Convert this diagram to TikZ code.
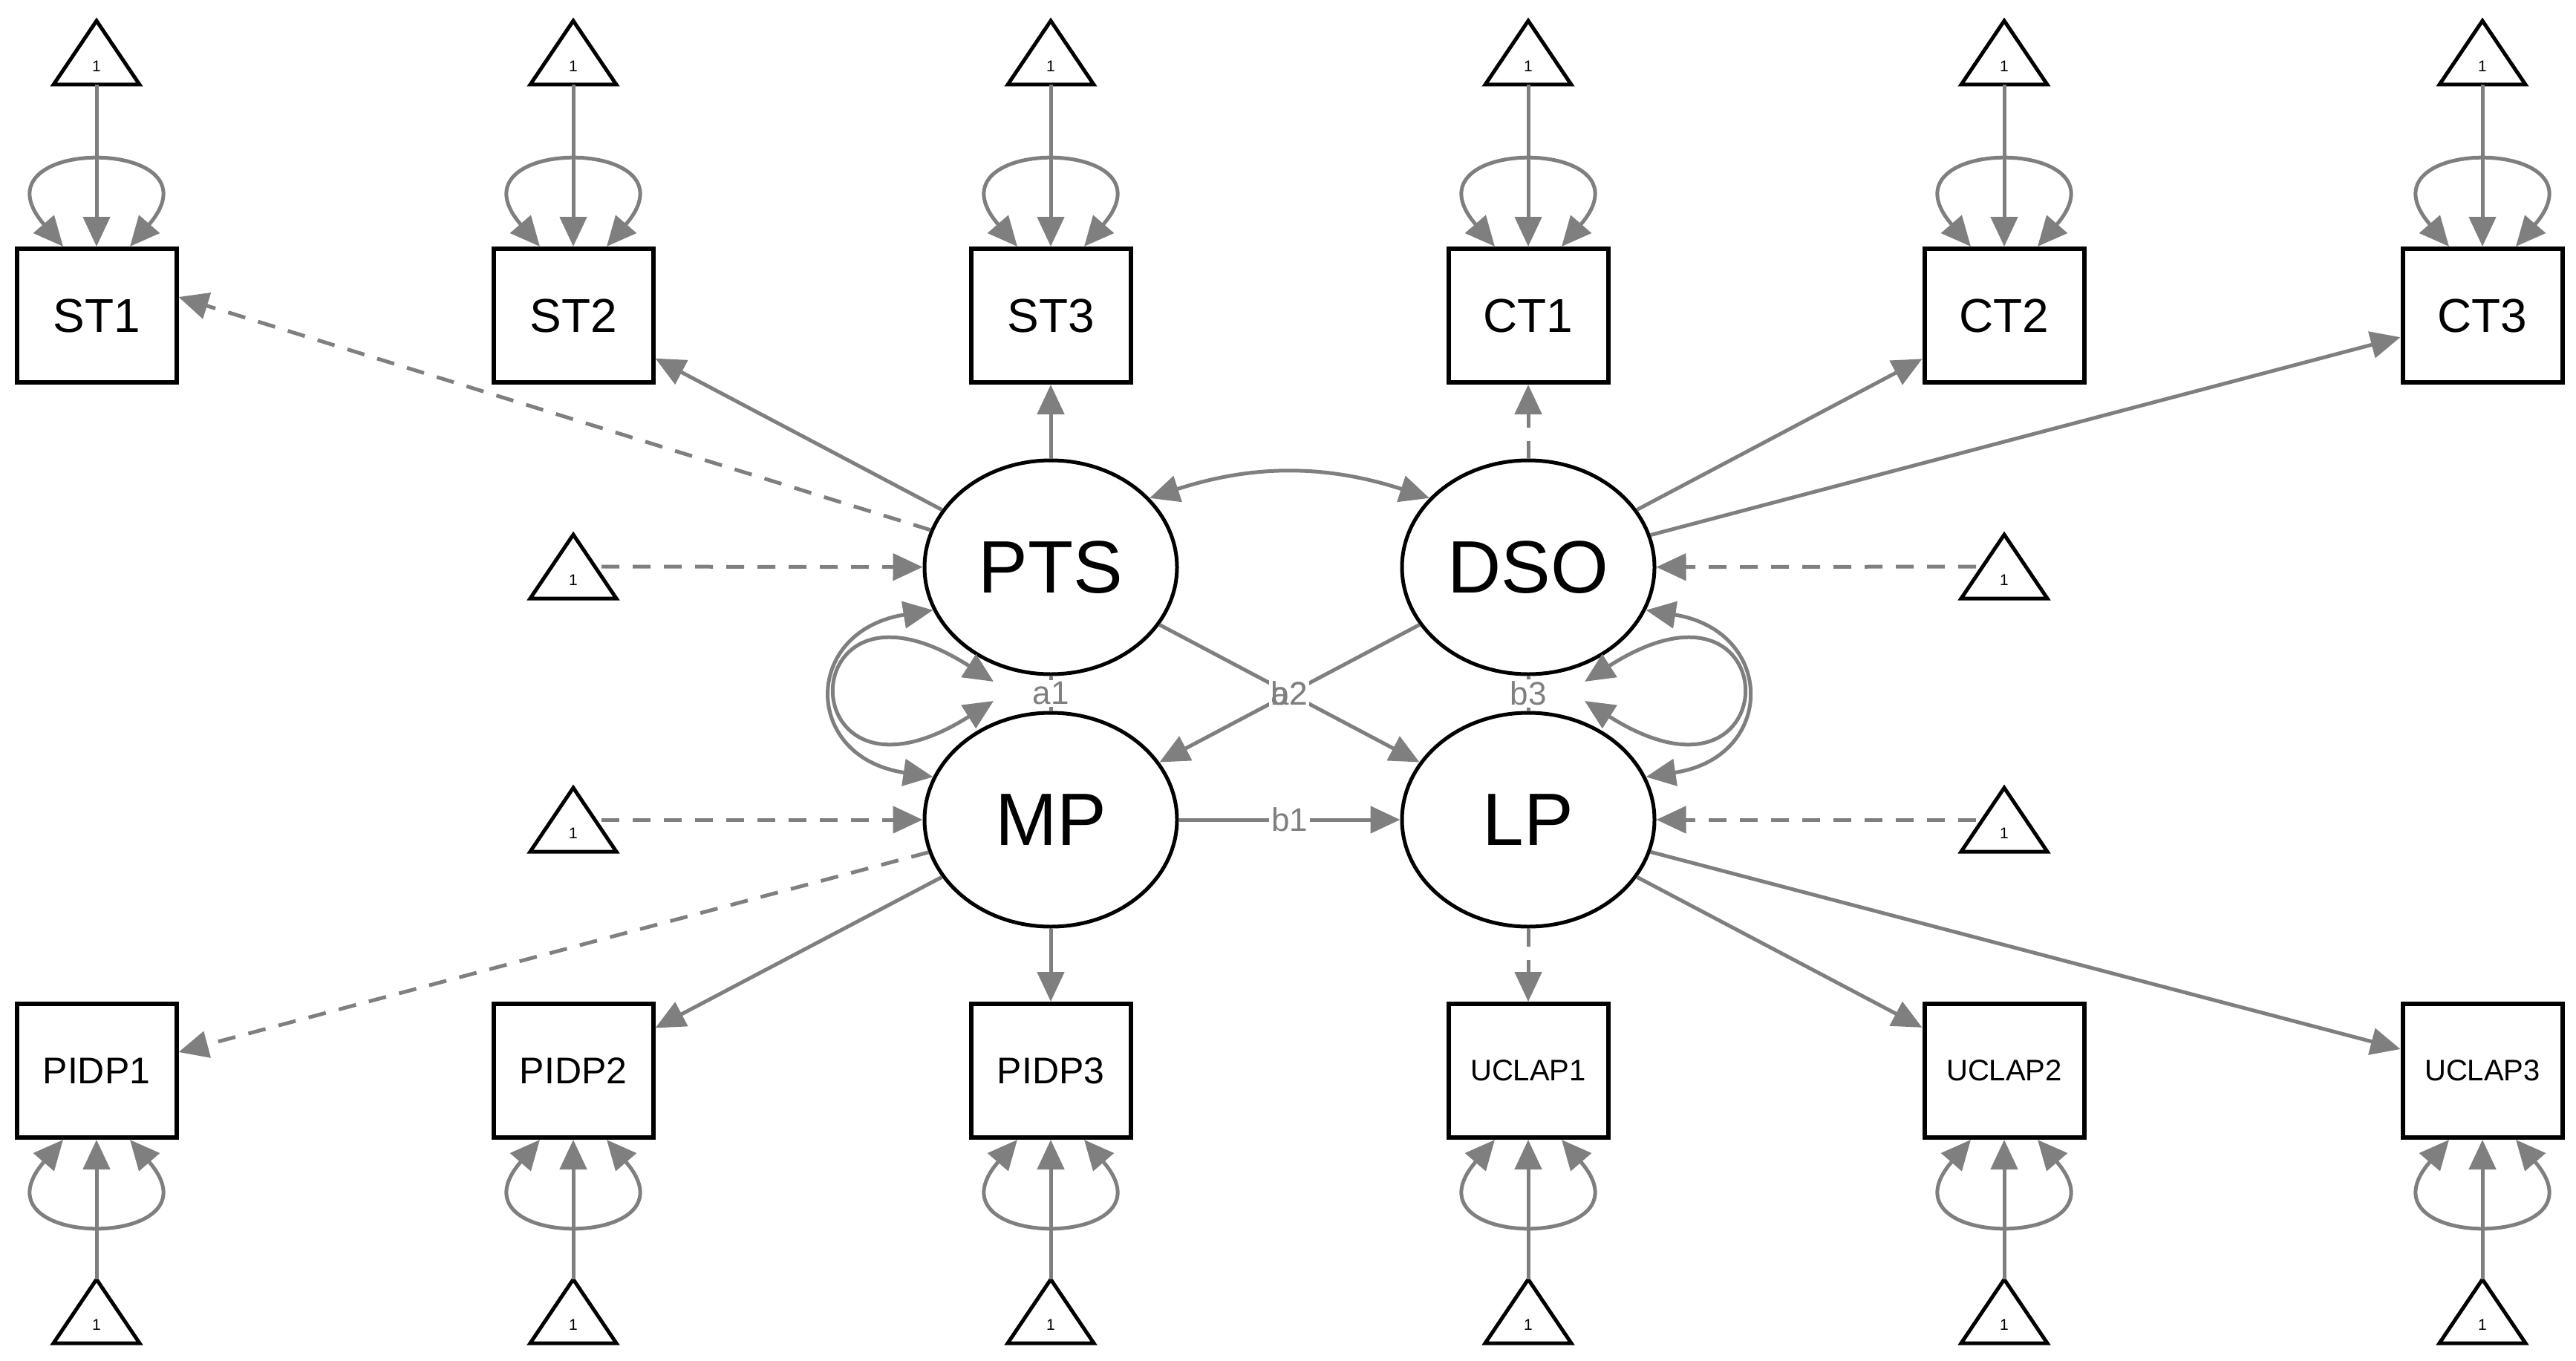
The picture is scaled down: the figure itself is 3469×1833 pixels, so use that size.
\documentclass[tikz,border=0pt]{standalone}
\usepackage{fontspec}
\setmainfont{Liberation Sans}
\usetikzlibrary{shapes.geometric,arrows.meta,calc}
\definecolor{eg}{HTML}{7F7F7F}
\newcommand\onetri[3]{%
  \draw[line width=5pt,fill=white] (#2-58,#3+43) -- (#2,#3-43) -- (#2+58,#3+43) -- cycle;
  \node[font=\fontsize{21}{21}\selectfont] at (#2,#3+18) {1};
  \coordinate (#1top) at (#2,#3-43);
  \coordinate (#1bot) at (#2,#3+43);
  \coordinate (#1r) at (#2+38,#3);
  \coordinate (#1l) at (#2-38,#3);}
\tikzset{
  lat/.style={ellipse, draw, line width=5pt, fill=white, minimum width=340pt, minimum height=288pt, inner sep=0pt, font=\fontsize{100}{100}\selectfont},
  obs/.style={rectangle, draw, line width=6pt, fill=white, minimum width=215pt, minimum height=180pt, inner sep=0pt},
  big/.style={font=\fontsize{64}{64}\selectfont},
  mid/.style={font=\fontsize{50}{50}\selectfont},
  sml/.style={font=\fontsize{40}{40}\selectfont},
  tip/.tip={Triangle[length=40pt,width=36pt]},
  e/.style={draw=eg, line width=5pt, -tip},
  ee/.style={draw=eg, line width=5pt, tip-tip},
  dsh/.style={dash pattern=on 24pt off 18pt},
  lab/.style={text=eg, font=\fontsize{44}{44}\selectfont, inner sep=3pt},
}
\begin{document}
\begin{tikzpicture}[x=1pt,y=-1pt]
\useasboundingbox (0,0) rectangle (3469,1833);
% latent
\node[lat] (PTS) at (1415,764) {PTS};
\node[lat] (DSO) at (2058,764) {DSO};
\node[lat] (MP) at (1415,1104) {MP};
\node[lat] (LP) at (2058,1104) {LP};
% observed
\foreach \n/\x in {ST1/130,ST2/772,ST3/1415,CT1/2058,CT2/2699,CT3/3343}
  \node[obs,big] (\n) at (\x,425) {\n};
\foreach \n/\x in {PIDP1/130,PIDP2/772,PIDP3/1415}
  \node[obs,mid] (\n) at (\x,1442) {\n};
\foreach \n/\x in {UCLAP1/2058,UCLAP2/2699,UCLAP3/3343}
  \node[obs,sml] (\n) at (\x,1442) {\n};
% triangles
\foreach \n/\x in {ST1/130,ST2/772,ST3/1415,CT1/2058,CT2/2699,CT3/3343}{
  \onetri{T\n}{\x}{71}
  \draw[e] (T\n bot) -- (\n.north);
  \draw[ee] ($(\n.north)+(-45,0)$) .. controls +(-130,-150) and +(130,-150) .. ($(\n.north)+(45,0)$);
}
\foreach \n/\x in {PIDP1/130,PIDP2/772,PIDP3/1415,UCLAP1/2058,UCLAP2/2699,UCLAP3/3343}{
  \onetri{T\n}{\x}{1766}
  \draw[e] (T\n top) -- (\n.south);
  \draw[ee] ($(\n.south)+(-45,0)$) .. controls +(-130,150) and +(130,150) .. ($(\n.south)+(45,0)$);
}
\onetri{TPTS}{772}{763}
\onetri{TMP}{772}{1104}
\onetri{TDSO}{2699}{763}
\onetri{TLP}{2699}{1104}
\draw[e,dsh] (TPTSr) -- (PTS);
\draw[e,dsh] (TMPr) -- (MP);
\draw[e,dsh] (TDSOl) -- (DSO);
\draw[e,dsh] (TLPl) -- (LP);
% loadings
\draw[e,dsh] (PTS) -- ($(ST1.east)+(0,-25)$);
\draw[e] (PTS) -- (ST2);
\draw[e] (PTS) -- (ST3);
\draw[e,dsh] (DSO) -- (CT1);
\draw[e] (DSO) -- (CT2);
\draw[e] (DSO) -- (CT3);
\draw[e,dsh] (MP) -- ($(PIDP1.east)+(0,-25)$);
\draw[e] (MP) -- (PIDP2);
\draw[e] (MP) -- (PIDP3);
\draw[e,dsh] (LP) -- (UCLAP1);
\draw[e] (LP) -- (UCLAP2);
\draw[e] (LP) -- (UCLAP3);
% structural
\draw[ee] (PTS.35) to[bend left=18] (DSO.145);
\draw[e] (PTS) -- (LP);
\draw[e] (DSO) -- (MP);
\draw[e] (MP) -- node[lab,fill=white] {b1} (LP);
\draw[draw=eg,line width=5pt] (PTS.south) -- node[lab,fill=white] {a1} (MP.north);
\draw[draw=eg,line width=5pt] (DSO.south) -- node[lab,fill=white] {b3} (LP.north);
\node[lab,fill=white] at (1736,934) {\phantom{b2}};
\node[lab] at (1736,934) {a2};
\node[lab] at (1736,934) {b2};
% variance / covariance loops
\coordinate (L1s) at (1338,918);
\coordinate (L1e) at (1338,944);
\coordinate (R1s) at (2134,918);
\coordinate (R1e) at (2134,944);
\draw[ee] (PTS.200) .. controls (1080,850) and (1080,1020) .. (MP.160);
\draw[ee] (L1s) .. controls (1060,740) and (1060,1120) .. (L1e);
\draw[ee] (DSO.-20) .. controls (2392,850) and (2392,1020) .. (LP.20);
\draw[ee] (R1s) .. controls (2412,740) and (2412,1120) .. (R1e);
\end{tikzpicture}
\end{document}
